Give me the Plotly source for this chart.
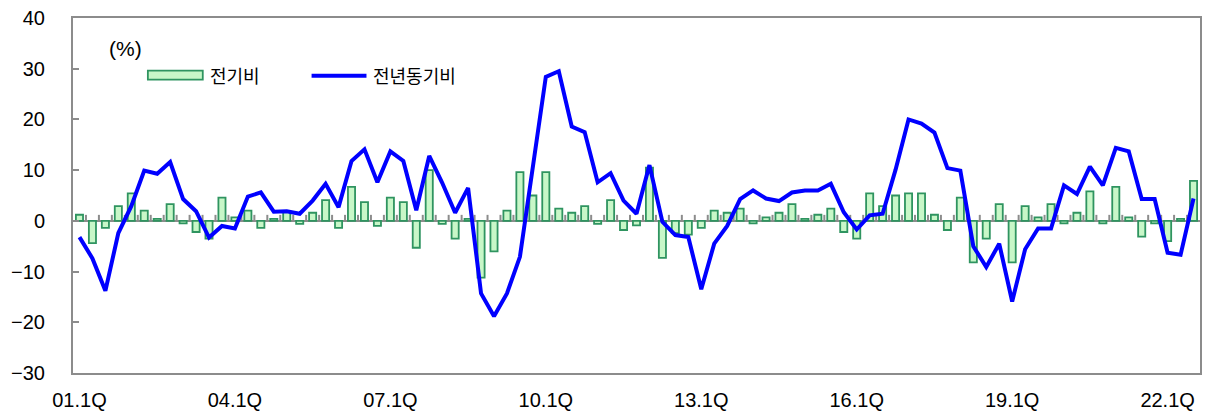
import plotly.graph_objects as go

# Quarterly labels 2001Q1 .. 2022Q3
quarters = [f"{y % 100:02d}.{q}Q" for y in range(2001, 2023) for q in range(1, 5)][:87]
tick_labels = ["01.1Q", "04.1Q", "07.1Q", "10.1Q", "13.1Q", "16.1Q", "19.1Q", "22.1Q"]

# 전기비 (quarter-on-quarter, %)
qoq = [1.2, -4.4, -1.4, 2.9, 5.4, 2.0, 0.4, 3.3, -0.5, -2.2,
       -3.5, 4.6, 0.7, 2.0, -1.4, 0.4, 1.9, -0.6, 1.6, 4.1,
       -1.4, 6.7, 3.7, -1.0, 4.6, 3.7, -5.3, 10.0, -0.6, -3.5,
       0.4, -11.2, -6.0, 2.0, 9.6, 5.0, 9.6, 2.4, 1.6, 2.9,
       -0.6, 4.1, -1.8, -0.9, 10.5, -7.3, -2.4, -2.7, -1.4, 2.0,
       1.6, 2.4, -0.5, 0.7, 1.6, 3.3, 0.4, 1.2, 2.4, -2.2,
       -3.5, 5.4, 2.9, 5.0, 5.4, 5.4, 1.2, -1.8, 4.6, -8.2,
       -3.5, 3.3, -8.2, 2.9, 0.7, 3.3, -0.5, 1.6, 5.8, -0.5,
       6.7, 0.7, -3.1, -0.5, -4.0, 0.4, 7.9]

# 전년동기비 (year-on-year, %)
yoy = [-3.2, -7.4, -13.8, -2.4, 2.9, 9.9, 9.3, 11.6, 4.3, 1.9,
       -3.3, -1.0, -1.5, 4.8, 5.6, 1.8, 1.9, 1.4, 4.0, 7.3,
       2.7, 11.8, 14.1, 7.6, 13.7, 11.8, 2.1, 12.8, 7.5, 1.6,
       6.5, -14.3, -18.8, -14.3, -7.1, 10.5, 28.4, 29.5, 18.6, 17.5,
       7.6, 9.4, 4.0, 1.4, 11.0, -0.2, -2.8, -3.2, -13.5, -4.5,
       -1.0, 4.3, 6.0, 4.4, 3.9, 5.6, 6.0, 6.0, 7.3, 1.7,
       -1.7, 1.1, 1.4, 10.1, 20.0, 19.2, 17.4, 10.4, 9.9, -5.0,
       -9.1, -4.5, -15.9, -5.6, -1.5, -1.5, 7.0, 5.3, 10.7, 7.0,
       14.4, 13.7, 4.3, 4.3, -6.3, -6.7, 4.4]

W, H = 1209, 418
ML, MR, MT, MB = 73, 7, 16, 45
PW, PH = W - ML - MR, H - MT - MB

GRID = "#8c8c8c"
BAR_FILL = "#c8f7c8"
BAR_EDGE = "#2f9460"
LINE_BLUE = "#0000ff"
NUM_FONT = "Liberation Sans, Arial, sans-serif"
KR_FONT = "Noto Sans CJK KR, sans-serif"


def px_x(x):
    return (x - ML) / PW


def px_y(y):
    return (H - MB - y) / PH


fig = go.Figure()
fig.add_trace(go.Bar(
    x=quarters, y=qoq, name="전기비", width=0.55,
    marker=dict(color=BAR_FILL, line=dict(color=BAR_EDGE, width=1.8)),
    showlegend=False,
))
fig.add_trace(go.Scatter(
    x=quarters, y=yoy, name="전년동기비", mode="lines",
    line=dict(color=LINE_BLUE, width=4),
    showlegend=False,
))

# small tick marks along the zero line, between quarters
shapes = []
for i in range(len(quarters) - 1):
    shapes.append(dict(
        type="line", xref="x", yref="y", x0=i + 0.5, x1=i + 0.5,
        ysizemode="pixel", yanchor=0, y0=0, y1=6,
        line=dict(color=GRID, width=2), layer="below",
    ))

# hand-drawn legend
shapes.append(dict(
    type="rect", xref="paper", yref="paper",
    x0=px_x(148), x1=px_x(203), y0=px_y(78), y1=px_y(69),
    fillcolor=BAR_FILL, line=dict(color=BAR_EDGE, width=1.8),
))
shapes.append(dict(
    type="line", xref="paper", yref="paper",
    x0=px_x(312), x1=px_x(367), y0=px_y(74), y1=px_y(74),
    line=dict(color=LINE_BLUE, width=4),
))

annotations = [
    dict(text="(%)", xref="paper", yref="paper", x=px_x(126), y=px_y(47),
         xanchor="center", yanchor="middle", showarrow=False,
         font=dict(family=NUM_FONT, size=21, color="#000")),
    dict(text="전기비", xref="paper", yref="paper", x=px_x(208), y=px_y(73),
         xanchor="left", yanchor="middle", showarrow=False,
         font=dict(family=KR_FONT, size=18, color="#000")),
    dict(text="전년동기비", xref="paper", yref="paper", x=px_x(372), y=px_y(73),
         xanchor="left", yanchor="middle", showarrow=False,
         font=dict(family=KR_FONT, size=18, color="#000")),
]

fig.update_layout(
    width=W, height=H,
    margin=dict(l=ML, r=MR, t=MT, b=MB, pad=0),
    plot_bgcolor="white", paper_bgcolor="white",
    bargap=0.45,
    shapes=shapes, annotations=annotations,
    xaxis=dict(
        type="category", range=[-0.5, len(quarters) - 0.5],
        tickmode="array", tickvals=tick_labels, ticktext=tick_labels,
        ticks="", showgrid=False, zeroline=False,
        showline=True, linecolor=GRID, linewidth=2, mirror=True,
        tickfont=dict(family=NUM_FONT, size=20, color="#000"),
        ticklabelstandoff=8,
    ),
    yaxis=dict(
        range=[-30, 40], tickmode="array",
        tickvals=[-30, -20, -10, 0, 10, 20, 30, 40],
        ticks="inside", ticklen=6, tickcolor=GRID, tickwidth=1.5,
        showgrid=False,
        zeroline=True, zerolinecolor=GRID, zerolinewidth=2,
        showline=True, linecolor=GRID, linewidth=2, mirror=True,
        tickfont=dict(family=NUM_FONT, size=20, color="#000"),
        ticklabelstandoff=22,
    ),
)

fig.write_html("out.html")
